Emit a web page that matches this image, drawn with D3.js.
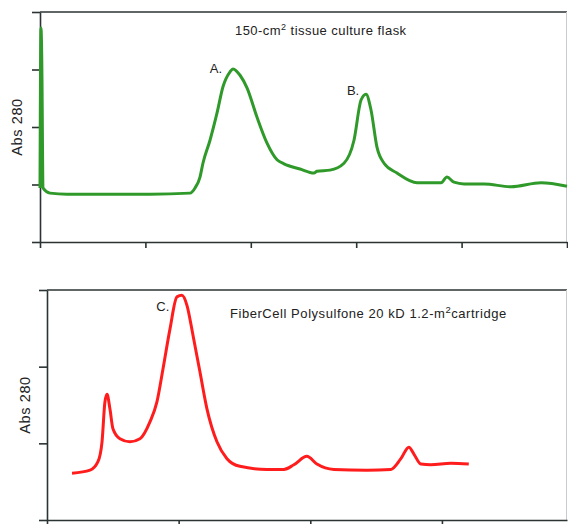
<!DOCTYPE html>
<html>
<head>
<meta charset="utf-8">
<script src="https://cdn.jsdelivr.net/npm/d3@7"></script>
<style>
  body { margin: 0; background: #fff; }
  svg { display: block; }
  text { font-family: "Liberation Sans", Arial, sans-serif; fill: #222; }
  .axis path, .axis line { stroke: #2b3333; stroke-width: 1.6; }
</style>
</head>
<body>
<script>
//elution time (arbitrary units) and Abs 280
var flaskTime = [0, 0.09, 0.19, 0.24, 0.28, 0.95, 2.56, 5.69, 10.44, 14.23, 14.71, 15.18, 15.46, 16.13, 16.79, 17.36, 18.03, 18.31, 18.98, 19.64, 20.59, 21.54, 22.49, 23.15, 24.67, 26.0, 26.28, 27.51, 28.84, 29.79, 30.46, 30.93, 31.4, 31.97, 32.64, 33.87, 35.77, 38.05, 38.61, 39.28, 40.23, 42.13, 44.69, 47.53, 50.0];
var flaskAbs = [0.94, 3.72, 2.82, 1.6, 0.94, 0.85, 0.83, 0.83, 0.83, 0.85, 0.94, 1.13, 1.37, 1.77, 2.24, 2.7, 2.96, 3.01, 2.9, 2.68, 2.17, 1.72, 1.43, 1.36, 1.27, 1.2, 1.23, 1.25, 1.37, 1.77, 2.47, 2.57, 2.3, 1.65, 1.37, 1.2, 1.03, 1.03, 1.13, 1.04, 1.01, 1.01, 0.96, 1.03, 0.97];

var cartTime = [1.9, 3.27, 3.87, 4.18, 4.4, 4.56, 4.78, 5.01, 5.54, 6.3, 7.06, 7.82, 8.35, 8.81, 9.34, 9.87, 10.25, 10.63, 11.09, 11.62, 12.15, 12.91, 13.67, 14.65, 16.7, 18.0, 18.75, 19.74, 20.5, 21.79, 24.3, 26.12, 26.88, 27.49, 27.87, 28.4, 29.16, 30.68, 32.04];
var cartAbs = [0.61, 0.65, 0.76, 1.02, 1.54, 1.64, 1.45, 1.19, 1.06, 1.02, 1.06, 1.28, 1.54, 1.97, 2.49, 2.91, 2.93, 2.8, 2.41, 1.93, 1.45, 1.02, 0.8, 0.7, 0.66, 0.66, 0.72, 0.83, 0.73, 0.66, 0.65, 0.66, 0.8, 0.95, 0.86, 0.73, 0.72, 0.74, 0.73];

var flaskXTicks = [0, 10, 20, 30, 40, 50];
var flaskYTicks = [0, 1, 2, 3, 4];
var cartXTicks = [0, 10, 20, 30];
var cartYTicks = [0, 1, 2, 3];

var peakLabels = [
    {panel: "flask", text: "A.", t: 16.7, a: 2.94},
    {panel: "flask", text: "B.", t: 29.7, a: 2.55},
    {panel: "cart", text: "C.", t: 8.8, a: 2.73}
];

var width = 568, height = 524;

var svg = d3.select("body")
    .append("svg")
    .attr("width", width)
    .attr("height", height);

//top panel: tissue culture flask
var x1 = d3.scaleLinear().domain([0, 50]).range([40, 567]);
var y1 = d3.scaleLinear().domain([0, 4]).range([242, 12]);

//bottom panel: FiberCell cartridge
var x2 = d3.scaleLinear().domain([0, 39.5]).range([47, 567]);
var y2 = d3.scaleLinear().domain([0, 3]).range([520, 290]);

function drawPanel(x, y, xt, yt, time, abs, color, ylabelX){
    //frame top and right
    svg.append("line")
        .attr("x1", x.range()[0]).attr("x2", x.range()[1])
        .attr("y1", y.range()[1]).attr("y2", y.range()[1])
        .attr("stroke", "#2b3333").attr("stroke-width", 1.6);
    svg.append("line")
        .attr("x1", x.range()[1] - 0.5).attr("x2", x.range()[1] - 0.5)
        .attr("y1", y.range()[1]).attr("y2", y.range()[0])
        .attr("stroke", "#c8cccc").attr("stroke-width", 1);

    svg.append("g")
        .attr("class", "axis")
        .attr("transform", "translate(" + x.range()[0] + ",0)")
        .call(d3.axisLeft(y).tickValues(yt).tickSize(8).tickSizeOuter(0).tickFormat(""));

    svg.append("g")
        .attr("class", "axis")
        .attr("transform", "translate(0," + y.range()[0] + ")")
        .call(d3.axisBottom(x).tickValues(xt).tickSize(6).tickSizeOuter(0).tickFormat(""));

    var line = d3.line()
        .x(function(d, i){ return x(time[i]); })
        .y(function(d){ return y(d); })
        .curve(d3.curveMonotoneX);

    svg.append("path")
        .datum(abs)
        .attr("fill", "none")
        .attr("stroke", color)
        .attr("stroke-width", 3)
        .attr("stroke-linejoin", "round")
        .attr("d", line);

    svg.append("text")
        .attr("transform", "translate(" + ylabelX + "," + ((y.range()[0] + y.range()[1]) / 2) + ") rotate(-90)")
        .attr("text-anchor", "middle")
        .attr("font-size", 14.5)
        .attr("letter-spacing", 0.6)
        .text("Abs 280");
}

drawPanel(x1, y1, flaskXTicks, flaskYTicks, flaskTime, flaskAbs, "#2f9a2a", 22);
drawPanel(x2, y2, cartXTicks, cartYTicks, cartTime, cartAbs, "#ff1c1c", 30);

//panel titles
var t1 = svg.append("text")
    .attr("x", 235).attr("y", 35)
    .attr("font-size", 13)
    .attr("letter-spacing", 0.45);
t1.append("tspan").text("150-cm");
t1.append("tspan").attr("dy", -5.5).attr("font-size", 9).text("2");
t1.append("tspan").attr("dy", 5.5).text(" tissue culture flask");

var t2 = svg.append("text")
    .attr("x", 230).attr("y", 318)
    .attr("font-size", 13)
    .attr("letter-spacing", 0.55);
t2.append("tspan").text("FiberCell Polysulfone 20 kD 1.2-m");
t2.append("tspan").attr("dy", -5.5).attr("font-size", 9.5).text("2");
t2.append("tspan").attr("dy", 5.5).text("cartridge");

//peak labels
svg.selectAll(".peak")
    .data(peakLabels)
    .enter()
    .append("text")
    .attr("class", "peak")
    .attr("x", function(d){ return d.panel == "flask" ? x1(d.t) : x2(d.t); })
    .attr("y", function(d){ return d.panel == "flask" ? y1(d.a) : y2(d.a); })
    .attr("text-anchor", "middle")
    .attr("font-size", 13)
    .text(function(d){ return d.text; });
</script>
</body>
</html>
